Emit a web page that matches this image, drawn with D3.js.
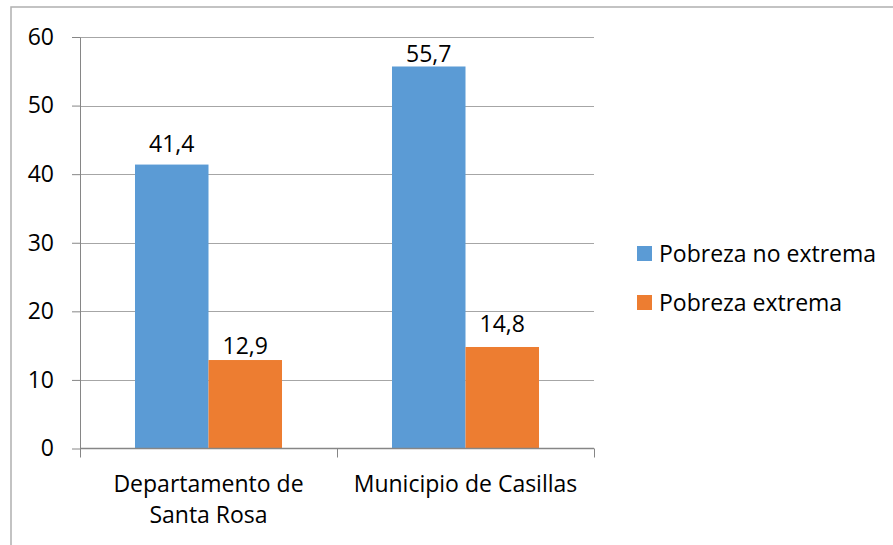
<!DOCTYPE html>
<html>
<head>
<meta charset="utf-8">
<script src="https://cdn.jsdelivr.net/npm/d3@7"></script>
<style>
  body { margin: 0; background: #fff; }
  svg text { font-family: "Open Sans", sans-serif; fill: #000; }
</style>
</head>
<body>
<svg id="chart" width="893" height="545"></svg>
<script>
/// data ///
const categories = [["Departamento de", "Santa Rosa"], ["Municipio de Casillas"]];
const categoryKeys = ["Departamento de Santa Rosa", "Municipio de Casillas"];
const seriesNames = ["Pobreza no extrema", "Pobreza extrema"];
const noExtrema = [41.4, 55.7];
const extrema = [12.9, 14.8];
const yTicks = [0, 10, 20, 30, 40, 50, 60];

/// constants ///
const colours = ["#5B9BD5", "#ED7D31"];
const gridColour = "#a6a6a6";
const axisColour = "#868686";
const fontSize = 23;
// gap between a bar top and its label baseline, [series][category]
const labelGap = [[13, 4], [6, 15]];
const margin = {top: 37, left: 80, right: 299, bottom: 97};
const width = 893, height = 545;

const svg = d3.select("#chart");

// outer chart border
svg.append("rect")
  .attr("x", 11).attr("y", 7)
  .attr("width", 1000).attr("height", 1000)
  .attr("fill", "none")
  .attr("stroke", "#b0b0b0")
  .attr("stroke-width", 1.5);

/// scales ///
const x0 = d3.scaleBand()
  .domain(categoryKeys)
  .range([margin.left, width - margin.right])
  .paddingInner(0.428)
  .paddingOuter(0.214);

const x1 = d3.scaleBand()
  .domain(seriesNames)
  .range([0, x0.bandwidth()]);

const y = d3.scaleLinear()
  .domain([0, 60])
  .range([height - margin.bottom + 0.5, margin.top]);

const g = svg.append("g");

// gridlines
g.selectAll(".grid")
  .data(yTicks.filter(d => d > 0))
  .join("line")
  .attr("x1", margin.left).attr("x2", width - margin.right)
  .attr("y1", d => Math.round(y(d)) + 0.5).attr("y2", d => Math.round(y(d)) + 0.5)
  .attr("stroke", gridColour).attr("stroke-width", 1);

// y axis
g.append("g")
  .attr("transform", `translate(${margin.left},0)`)
  .call(d3.axisLeft(y).tickValues(yTicks).tickSize(8).tickPadding(18).tickSizeOuter(0))
  .call(a => a.select(".domain").attr("stroke", axisColour))
  .call(a => a.selectAll(".tick line").attr("stroke", axisColour))
  .call(a => a.selectAll("text").attr("font-size", fontSize).attr("font-family", "Open Sans").attr("fill", "#000"));

// bars
const rows = categoryKeys.map((c, i) => ({cat: c, i, vals: [noExtrema[i], extrema[i]]}));
const groups = g.selectAll(".grp")
  .data(rows)
  .join("g")
  .attr("transform", d => `translate(${x0(d.cat)},0)`);

groups.selectAll("rect")
  .data(d => d.vals.map((v, j) => ({name: seriesNames[j], v, j, i: d.i})))
  .join("rect")
  .attr("x", d => x1(d.name))
  .attr("y", d => y(d.v))
  .attr("width", x1.bandwidth())
  .attr("height", d => y(0) - y(d.v))
  .attr("fill", d => colours[d.j]);

groups.selectAll(".lbl")
  .data(d => d.vals.map((v, j) => ({name: seriesNames[j], v, j, i: d.i})))
  .join("text")
  .attr("x", d => x1(d.name) + x1.bandwidth() / 2)
  .attr("y", d => y(d.v) - labelGap[d.j][d.i])
  .attr("text-anchor", "middle")
  .attr("font-size", fontSize)
  .text(d => d3.format(".1f")(d.v).replace(".", ","));

// x axis
const xAxisY = y(0);
g.append("line")
  .attr("x1", margin.left).attr("x2", width - margin.right)
  .attr("y1", xAxisY).attr("y2", xAxisY)
  .attr("stroke", axisColour).attr("stroke-width", 1.5);

const step = x0.step();
g.selectAll(".xtick")
  .data(d3.range(categoryKeys.length + 1))
  .join("line")
  .attr("x1", i => margin.left + i * step + 0.5).attr("x2", i => margin.left + i * step + 0.5)
  .attr("y1", xAxisY).attr("y2", xAxisY + 9)
  .attr("stroke", axisColour);

g.selectAll(".xlbl")
  .data(categories)
  .join("text")
  .attr("text-anchor", "middle")
  .attr("font-size", fontSize)
  .attr("transform", (d, i) => `translate(${x0(categoryKeys[i]) + x0.bandwidth() / 2},${xAxisY + 43})`)
  .selectAll("tspan")
  .data(d => d)
  .join("tspan")
  .attr("x", 0)
  .attr("dy", (d, i) => i === 0 ? 0 : 31)
  .text(d => d);

// legend
const legend = svg.append("g")
  .attr("transform", "translate(637,246)");
legend.selectAll("rect")
  .data(seriesNames)
  .join("rect")
  .attr("x", 0).attr("y", (d, i) => i * 49)
  .attr("width", 15).attr("height", 15)
  .attr("fill", (d, i) => colours[i]);
legend.selectAll("text")
  .data(seriesNames)
  .join("text")
  .attr("x", 22).attr("y", (d, i) => i * 49 + 16)
  .attr("font-size", fontSize)
  .text(d => d);
</script>
</body>
</html>
